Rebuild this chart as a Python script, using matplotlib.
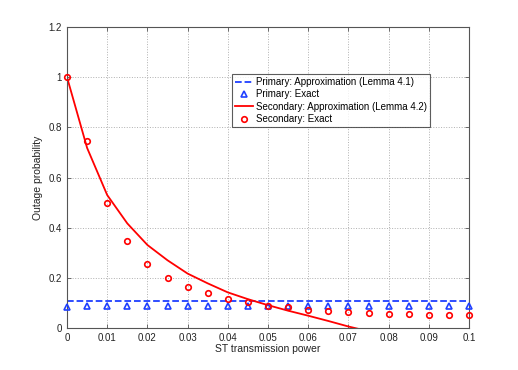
import matplotlib
matplotlib.use("Agg")
import matplotlib.pyplot as plt
import numpy as np

# Data
x_exact = [0, 0.005, 0.01, 0.015, 0.02, 0.025, 0.03, 0.035, 0.04, 0.045, 0.05,
           0.055, 0.06, 0.065, 0.07, 0.075, 0.08, 0.085, 0.09, 0.095, 0.1]
primary_exact = [0.085, 0.087, 0.087, 0.088, 0.088, 0.088, 0.088, 0.088, 0.088, 0.088, 0.088,
                 0.088, 0.088, 0.088, 0.088, 0.088, 0.088, 0.088, 0.088, 0.088, 0.088]
secondary_exact = [1.0, 0.745, 0.497, 0.347, 0.257, 0.200, 0.164, 0.138, 0.117, 0.102, 0.089,
                   0.082, 0.073, 0.066, 0.062, 0.058, 0.056, 0.054, 0.052, 0.051, 0.050]
primary_approx_x = [0, 0.1]
primary_approx = [0.108, 0.108]
x_sec_approx = [0, 0.005, 0.01, 0.015, 0.02, 0.025, 0.03, 0.035, 0.04, 0.045, 0.05,
                0.055, 0.06, 0.065, 0.07, 0.075]
secondary_approx = [1.0, 0.718, 0.530, 0.417, 0.331, 0.270, 0.217, 0.178, 0.142, 0.115, 0.091,
                    0.069, 0.049, 0.028, 0.006, -0.013]

xticks = [0, 0.01, 0.02, 0.03, 0.04, 0.05, 0.06, 0.07, 0.08, 0.09, 0.1]
xticklabels = ["0", "0.01", "0.02", "0.03", "0.04", "0.05", "0.06", "0.07", "0.08", "0.09", "0.1"]
yticks = [0, 0.2, 0.4, 0.6, 0.8, 1.0, 1.2]
yticklabels = ["0", "0.2", "0.4", "0.6", "0.8", "1", "1.2"]

plt.rcParams['font.family'] = ['Liberation Sans', 'DejaVu Sans']

fig = plt.figure(figsize=(5.18, 3.70), dpi=100)
ax = fig.add_axes([67/518, 1 - 328/370, (469-67)/518, (328-27)/370])

ax.plot(primary_approx_x, primary_approx, '--', color='#1f3fff', lw=1.3,
        label='Primary: Approximation (Lemma 4.1)')
ax.plot(x_exact, primary_exact, '^', color='#1f3fff', mfc='none', mew=1.2, ms=4.5,
        linestyle='none', label='Primary: Exact', clip_on=False, zorder=4)
ax.plot(x_sec_approx, secondary_approx, '-', color='red', lw=1.3,
        label='Secondary: Approximation (Lemma 4.2)')
ax.plot(x_exact, secondary_exact, 'o', color='red', mfc='none', mew=1.2, ms=4,
        linestyle='none', label='Secondary: Exact', clip_on=False, zorder=4)

ax.set_xlim(0, 0.1)
ax.set_ylim(0, 1.2)
ax.set_xticks(xticks)
ax.set_xticklabels(xticklabels)
ax.set_yticks(yticks)
ax.set_yticklabels(yticklabels)
ax.tick_params(direction='in', labelsize=7, length=3, width=0.6, top=True, right=True,
               labelcolor='#222222', color='#555555')
ax.grid(True, linestyle=':', color='#b0b0b0', lw=0.7)
for s in ax.spines.values():
    s.set_color('#555555')
    s.set_linewidth(0.8)

ax.set_xlabel('ST transmission power', fontsize=7.5, labelpad=1, color='#222222')
ax.set_ylabel('Outage probability', fontsize=7.5, labelpad=4, color='#222222')

leg = ax.legend(loc='upper left', bbox_to_anchor=((232-67)/402, (328-74)/301),
                fontsize=7, frameon=True, fancybox=False, borderpad=0.3,
                labelspacing=0.25, handlelength=1.9, handletextpad=0.3,
                borderaxespad=0)
leg.get_frame().set_edgecolor('#333333')
leg.get_frame().set_linewidth(0.8)

fig.savefig('out.png', dpi=100)
